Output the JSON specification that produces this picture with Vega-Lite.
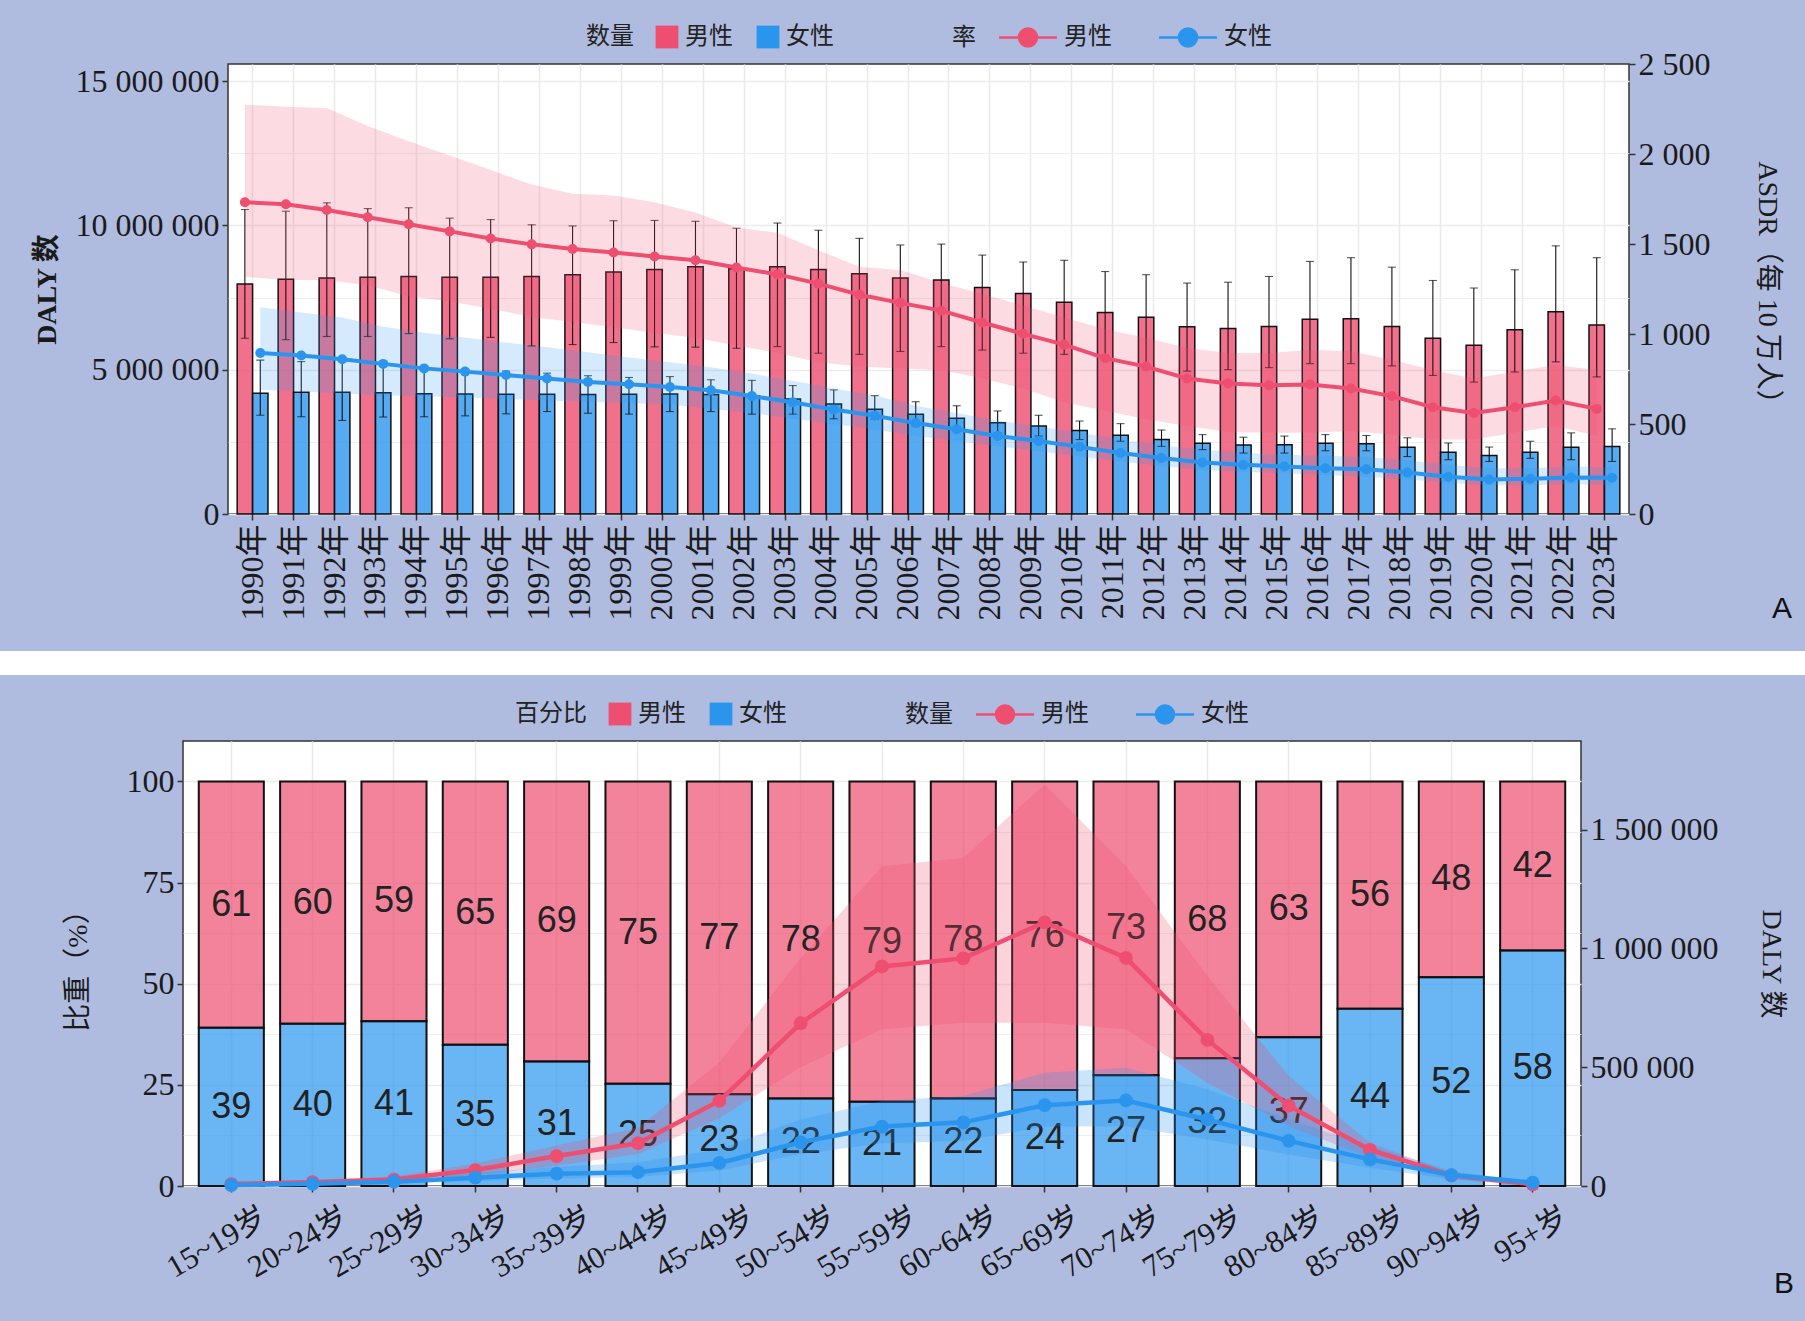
{
  "$schema": "https://vega.github.io/schema/vega-lite/v6.json",
  "background": "#AFBCE0",
  "padding": {"left": 0, "top": 24, "right": 0, "bottom": 22},
  "datasets": {
    "a_count": [
      {"year":1990,"sex":"男性","n":7970000,"lo":6090000,"hi":10550000},
      {"year":1991,"sex":"男性","n":8130000,"lo":6040000,"hi":10490000},
      {"year":1992,"sex":"男性","n":8180000,"lo":6150000,"hi":10780000},
      {"year":1993,"sex":"男性","n":8200000,"lo":6150000,"hi":10580000},
      {"year":1994,"sex":"男性","n":8230000,"lo":6250000,"hi":10610000},
      {"year":1995,"sex":"男性","n":8200000,"lo":6070000,"hi":10250000},
      {"year":1996,"sex":"男性","n":8200000,"lo":6120000,"hi":10200000},
      {"year":1997,"sex":"男性","n":8230000,"lo":5820000,"hi":10020000},
      {"year":1998,"sex":"男性","n":8290000,"lo":5870000,"hi":9980000},
      {"year":1999,"sex":"男性","n":8380000,"lo":5940000,"hi":10160000},
      {"year":2000,"sex":"男性","n":8470000,"lo":5790000,"hi":10170000},
      {"year":2001,"sex":"男性","n":8570000,"lo":5780000,"hi":10140000},
      {"year":2002,"sex":"男性","n":8500000,"lo":5740000,"hi":9900000},
      {"year":2003,"sex":"男性","n":8570000,"lo":5800000,"hi":10080000},
      {"year":2004,"sex":"男性","n":8470000,"lo":5570000,"hi":9830000},
      {"year":2005,"sex":"男性","n":8320000,"lo":5530000,"hi":9550000},
      {"year":2006,"sex":"男性","n":8180000,"lo":5630000,"hi":9320000},
      {"year":2007,"sex":"男性","n":8110000,"lo":5800000,"hi":9350000},
      {"year":2008,"sex":"男性","n":7850000,"lo":5680000,"hi":8970000},
      {"year":2009,"sex":"男性","n":7640000,"lo":5570000,"hi":8730000},
      {"year":2010,"sex":"男性","n":7340000,"lo":5530000,"hi":8790000},
      {"year":2011,"sex":"男性","n":6980000,"lo":5330000,"hi":8400000},
      {"year":2012,"sex":"男性","n":6820000,"lo":5160000,"hi":8290000},
      {"year":2013,"sex":"男性","n":6490000,"lo":4950000,"hi":8000000},
      {"year":2014,"sex":"男性","n":6430000,"lo":5000000,"hi":8030000},
      {"year":2015,"sex":"男性","n":6500000,"lo":5070000,"hi":8230000},
      {"year":2016,"sex":"男性","n":6750000,"lo":5210000,"hi":8750000},
      {"year":2017,"sex":"男性","n":6760000,"lo":5210000,"hi":8880000},
      {"year":2018,"sex":"男性","n":6500000,"lo":5130000,"hi":8550000},
      {"year":2019,"sex":"男性","n":6090000,"lo":4800000,"hi":8090000},
      {"year":2020,"sex":"男性","n":5850000,"lo":4570000,"hi":7830000},
      {"year":2021,"sex":"男性","n":6380000,"lo":4920000,"hi":8460000},
      {"year":2022,"sex":"男性","n":7010000,"lo":5270000,"hi":9290000},
      {"year":2023,"sex":"男性","n":6550000,"lo":4750000,"hi":8880000},
      {"year":1990,"sex":"女性","n":4180000,"lo":3420000,"hi":5330000},
      {"year":1991,"sex":"女性","n":4220000,"lo":3370000,"hi":5280000},
      {"year":1992,"sex":"女性","n":4220000,"lo":3240000,"hi":5340000},
      {"year":1993,"sex":"女性","n":4200000,"lo":3360000,"hi":5280000},
      {"year":1994,"sex":"女性","n":4170000,"lo":3370000,"hi":5100000},
      {"year":1995,"sex":"女性","n":4160000,"lo":3400000,"hi":5020000},
      {"year":1996,"sex":"女性","n":4150000,"lo":3470000,"hi":4950000},
      {"year":1997,"sex":"女性","n":4150000,"lo":3550000,"hi":4880000},
      {"year":1998,"sex":"女性","n":4140000,"lo":3490000,"hi":4790000},
      {"year":1999,"sex":"女性","n":4150000,"lo":3460000,"hi":4730000},
      {"year":2000,"sex":"女性","n":4160000,"lo":3550000,"hi":4760000},
      {"year":2001,"sex":"女性","n":4140000,"lo":3550000,"hi":4650000},
      {"year":2002,"sex":"女性","n":4100000,"lo":3460000,"hi":4630000},
      {"year":2003,"sex":"女性","n":3980000,"lo":3460000,"hi":4450000},
      {"year":2004,"sex":"女性","n":3810000,"lo":3300000,"hi":4300000},
      {"year":2005,"sex":"女性","n":3630000,"lo":3280000,"hi":4100000},
      {"year":2006,"sex":"女性","n":3460000,"lo":3050000,"hi":3890000},
      {"year":2007,"sex":"女性","n":3320000,"lo":2990000,"hi":3750000},
      {"year":2008,"sex":"女性","n":3160000,"lo":2810000,"hi":3570000},
      {"year":2009,"sex":"女性","n":3050000,"lo":2700000,"hi":3420000},
      {"year":2010,"sex":"女性","n":2890000,"lo":2580000,"hi":3220000},
      {"year":2011,"sex":"女性","n":2730000,"lo":2520000,"hi":3130000},
      {"year":2012,"sex":"女性","n":2580000,"lo":2340000,"hi":2910000},
      {"year":2013,"sex":"女性","n":2450000,"lo":2230000,"hi":2750000},
      {"year":2014,"sex":"女性","n":2390000,"lo":2110000,"hi":2660000},
      {"year":2015,"sex":"女性","n":2400000,"lo":2110000,"hi":2700000},
      {"year":2016,"sex":"女性","n":2450000,"lo":2190000,"hi":2750000},
      {"year":2017,"sex":"女性","n":2430000,"lo":2190000,"hi":2720000},
      {"year":2018,"sex":"女性","n":2310000,"lo":1990000,"hi":2640000},
      {"year":2019,"sex":"女性","n":2140000,"lo":1880000,"hi":2460000},
      {"year":2020,"sex":"女性","n":2030000,"lo":1820000,"hi":2320000},
      {"year":2021,"sex":"女性","n":2140000,"lo":1930000,"hi":2520000},
      {"year":2022,"sex":"女性","n":2310000,"lo":1880000,"hi":2810000},
      {"year":2023,"sex":"女性","n":2340000,"lo":1820000,"hi":2950000}
    ],
    "a_rate": [
      {"year":1990,"sex":"男性","r":1732,"rlo":1318,"rhi":2274},
      {"year":1991,"sex":"男性","r":1721,"rlo":1300,"rhi":2263},
      {"year":1992,"sex":"男性","r":1689,"rlo":1300,"rhi":2255},
      {"year":1993,"sex":"男性","r":1649,"rlo":1270,"rhi":2155},
      {"year":1994,"sex":"男性","r":1610,"rlo":1210,"rhi":2071},
      {"year":1995,"sex":"男性","r":1570,"rlo":1180,"rhi":1992},
      {"year":1996,"sex":"男性","r":1531,"rlo":1140,"rhi":1911},
      {"year":1997,"sex":"男性","r":1498,"rlo":1095,"rhi":1830},
      {"year":1998,"sex":"男性","r":1472,"rlo":1066,"rhi":1779},
      {"year":1999,"sex":"男性","r":1453,"rlo":1038,"rhi":1770},
      {"year":2000,"sex":"男性","r":1431,"rlo":1005,"rhi":1732},
      {"year":2001,"sex":"男性","r":1410,"rlo":979,"rhi":1675},
      {"year":2002,"sex":"男性","r":1369,"rlo":936,"rhi":1591},
      {"year":2003,"sex":"男性","r":1331,"rlo":894,"rhi":1562},
      {"year":2004,"sex":"男性","r":1280,"rlo":843,"rhi":1465},
      {"year":2005,"sex":"男性","r":1218,"rlo":819,"rhi":1374},
      {"year":2006,"sex":"男性","r":1173,"rlo":809,"rhi":1355},
      {"year":2007,"sex":"男性","r":1130,"rlo":800,"rhi":1284},
      {"year":2008,"sex":"男性","r":1064,"rlo":753,"rhi":1224},
      {"year":2009,"sex":"男性","r":1001,"rlo":697,"rhi":1158},
      {"year":2010,"sex":"男性","r":941,"rlo":621,"rhi":1092},
      {"year":2011,"sex":"男性","r":866,"rlo":574,"rhi":1026},
      {"year":2012,"sex":"男性","r":819,"rlo":527,"rhi":979},
      {"year":2013,"sex":"男性","r":753,"rlo":489,"rhi":922},
      {"year":2014,"sex":"男性","r":725,"rlo":456,"rhi":894},
      {"year":2015,"sex":"男性","r":715,"rlo":452,"rhi":894},
      {"year":2016,"sex":"男性","r":719,"rlo":452,"rhi":913},
      {"year":2017,"sex":"男性","r":697,"rlo":461,"rhi":904},
      {"year":2018,"sex":"男性","r":655,"rlo":442,"rhi":857},
      {"year":2019,"sex":"男性","r":593,"rlo":414,"rhi":800},
      {"year":2020,"sex":"男性","r":561,"rlo":414,"rhi":753},
      {"year":2021,"sex":"男性","r":593,"rlo":452,"rhi":791},
      {"year":2022,"sex":"男性","r":631,"rlo":489,"rhi":828},
      {"year":2023,"sex":"男性","r":584,"rlo":433,"rhi":800},
      {"year":1990,"sex":"女性","r":894,"rlo":690,"rhi":1148},
      {"year":1991,"sex":"女性","r":881,"rlo":680,"rhi":1120},
      {"year":1992,"sex":"女性","r":860,"rlo":670,"rhi":1092},
      {"year":1993,"sex":"女性","r":834,"rlo":660,"rhi":1040},
      {"year":1994,"sex":"女性","r":809,"rlo":654,"rhi":1007},
      {"year":1995,"sex":"女性","r":791,"rlo":646,"rhi":981},
      {"year":1996,"sex":"女性","r":772,"rlo":639,"rhi":952},
      {"year":1997,"sex":"女性","r":753,"rlo":631,"rhi":926},
      {"year":1998,"sex":"女性","r":734,"rlo":624,"rhi":898},
      {"year":1999,"sex":"女性","r":721,"rlo":617,"rhi":870},
      {"year":2000,"sex":"女性","r":706,"rlo":609,"rhi":843},
      {"year":2001,"sex":"女性","r":687,"rlo":585,"rhi":815},
      {"year":2002,"sex":"女性","r":655,"rlo":560,"rhi":780},
      {"year":2003,"sex":"女性","r":621,"rlo":530,"rhi":740},
      {"year":2004,"sex":"女性","r":580,"rlo":500,"rhi":697},
      {"year":2005,"sex":"女性","r":546,"rlo":470,"rhi":659},
      {"year":2006,"sex":"女性","r":505,"rlo":433,"rhi":602},
      {"year":2007,"sex":"女性","r":471,"rlo":405,"rhi":561},
      {"year":2008,"sex":"女性","r":433,"rlo":376,"rhi":518},
      {"year":2009,"sex":"女性","r":405,"rlo":348,"rhi":486},
      {"year":2010,"sex":"女性","r":373,"rlo":320,"rhi":452},
      {"year":2011,"sex":"女性","r":339,"rlo":292,"rhi":414},
      {"year":2012,"sex":"女性","r":311,"rlo":267,"rhi":380},
      {"year":2013,"sex":"女性","r":286,"rlo":245,"rhi":358},
      {"year":2014,"sex":"女性","r":273,"rlo":235,"rhi":339},
      {"year":2015,"sex":"女性","r":264,"rlo":226,"rhi":329},
      {"year":2016,"sex":"女性","r":254,"rlo":216,"rhi":324},
      {"year":2017,"sex":"女性","r":248,"rlo":207,"rhi":316},
      {"year":2018,"sex":"女性","r":230,"rlo":192,"rhi":297},
      {"year":2019,"sex":"女性","r":207,"rlo":173,"rhi":273},
      {"year":2020,"sex":"女性","r":192,"rlo":160,"rhi":254},
      {"year":2021,"sex":"女性","r":196,"rlo":160,"rhi":254},
      {"year":2022,"sex":"女性","r":203,"rlo":166,"rhi":264},
      {"year":2023,"sex":"女性","r":201,"rlo":160,"rhi":260}
    ],
    "b": [
      {"age":"15~19岁","sex":"男性","pct":60.9,"n":8000,"nlo":3000,"nhi":15000},
      {"age":"20~24岁","sex":"男性","pct":59.9,"n":16000,"nlo":8000,"nhi":25000},
      {"age":"25~29岁","sex":"男性","pct":59.3,"n":27000,"nlo":18000,"nhi":40000},
      {"age":"30~34岁","sex":"男性","pct":65.1,"n":67000,"nlo":45000,"nhi":95000},
      {"age":"35~39岁","sex":"男性","pct":69.2,"n":126000,"nlo":85000,"nhi":170000},
      {"age":"40~44岁","sex":"男性","pct":74.7,"n":180000,"nlo":135000,"nhi":245000},
      {"age":"45~49岁","sex":"男性","pct":77.3,"n":358000,"nlo":285000,"nhi":520000},
      {"age":"50~54岁","sex":"男性","pct":78.4,"n":685000,"nlo":500000,"nhi":960000},
      {"age":"55~59岁","sex":"男性","pct":79.2,"n":924000,"nlo":660000,"nhi":1346000},
      {"age":"60~64岁","sex":"男性","pct":78.4,"n":958000,"nlo":687000,"nhi":1381000},
      {"age":"65~69岁","sex":"男性","pct":76.3,"n":1110000,"nlo":687000,"nhi":1690000},
      {"age":"70~74岁","sex":"男性","pct":72.6,"n":960000,"nlo":660000,"nhi":1346000},
      {"age":"75~79岁","sex":"男性","pct":68.4,"n":615000,"nlo":435000,"nhi":884000},
      {"age":"80~84岁","sex":"男性","pct":63.2,"n":338000,"nlo":252000,"nhi":463000},
      {"age":"85~89岁","sex":"男性","pct":56.2,"n":152000,"nlo":119000,"nhi":182000},
      {"age":"90~94岁","sex":"男性","pct":48.4,"n":45000,"nlo":28000,"nhi":56000},
      {"age":"95+岁","sex":"男性","pct":41.8,"n":7000,"nlo":1000,"nhi":9000},
      {"age":"15~19岁","sex":"女性","pct":39.1,"n":4000,"nlo":1000,"nhi":9000},
      {"age":"20~24岁","sex":"女性","pct":40.1,"n":9000,"nlo":4000,"nhi":17000},
      {"age":"25~29岁","sex":"女性","pct":40.7,"n":18000,"nlo":10000,"nhi":30000},
      {"age":"30~34岁","sex":"女性","pct":34.9,"n":35000,"nlo":20000,"nhi":55000},
      {"age":"35~39岁","sex":"女性","pct":30.8,"n":52000,"nlo":32000,"nhi":80000},
      {"age":"40~44岁","sex":"女性","pct":25.3,"n":58000,"nlo":38000,"nhi":100000},
      {"age":"45~49岁","sex":"女性","pct":22.7,"n":97000,"nlo":65000,"nhi":155000},
      {"age":"50~54岁","sex":"女性","pct":21.6,"n":184000,"nlo":135000,"nhi":280000},
      {"age":"55~59岁","sex":"女性","pct":20.8,"n":250000,"nlo":180000,"nhi":358000},
      {"age":"60~64岁","sex":"女性","pct":21.6,"n":268000,"nlo":189000,"nhi":379000},
      {"age":"65~69岁","sex":"女性","pct":23.7,"n":340000,"nlo":250000,"nhi":477000},
      {"age":"70~74岁","sex":"女性","pct":27.4,"n":360000,"nlo":252000,"nhi":498000},
      {"age":"75~79岁","sex":"女性","pct":31.6,"n":280000,"nlo":196000,"nhi":407000},
      {"age":"80~84岁","sex":"女性","pct":36.8,"n":190000,"nlo":133000,"nhi":281000},
      {"age":"85~89岁","sex":"女性","pct":43.8,"n":112000,"nlo":77000,"nhi":168000},
      {"age":"90~94岁","sex":"女性","pct":51.6,"n":46000,"nlo":28000,"nhi":63000},
      {"age":"95+岁","sex":"女性","pct":58.2,"n":14000,"nlo":3000,"nhi":17000}
    ]
  },
  "concat": [
    {
      "hconcat": [
        {
          "width": 32,
          "height": 10,
          "data": {"values": [{"k": 1}]},
          "mark": {"type": "point", "opacity": 0},
          "view": {"stroke": null, "fill": null}
        },
        {
          "width": 1401,
          "height": 450,
          "title": {"text": "A", "orient": "bottom", "anchor": "end", "frame": "bounds", "offset": -26, "dx": 12, "font": "Liberation Sans", "fontSize": 30, "fontWeight": "normal", "color": "#111111"},
          "encoding": {
            "x": {"field": "year", "type": "ordinal", "title": null,
              "scale": {"paddingInner": 0, "paddingOuter": 0.1},
              "axis": {"labelExpr": "datum.label + '年'", "labelAngle": -90, "grid": true, "tickBand": "center", "gridWidth": 1.6, "labelPadding": 4}},
            "xOffset": {"field": "sex", "type": "nominal", "scale": {"domain": ["男性", "女性"], "paddingInner": 0, "paddingOuter": 0.33}}
          },
          "layer": [
            {
              "data": {"name": "a_count"},
              "layer": [
                {
                  "mark": {"type": "bar", "stroke": "#111111", "strokeWidth": 1.5, "fillOpacity": 0.8},
                  "encoding": {
                    "y": {"field": "n", "type": "quantitative", "scale": {"domain": [0, 15590000], "nice": false},
                      "axis": {"orient": "left", "title": "DALY 数", "titleFontWeight": "bold", "titlePadding": 14,
                        "values": [0, 2500000, 5000000, 7500000, 10000000, 12500000, 15000000],
                        "format": ",d",
                        "labelExpr": "datum.value % 5000000 === 0 ? datum.label : ''",
                        "tickOpacity": {"condition": {"test": "datum.value % 5000000 !== 0", "value": 0}, "value": 1},
                        "grid": true,
                        "gridWidth": {"condition": {"test": "datum.value % 5000000 !== 0", "value": 0.8}, "value": 1.6}}},
                    "fill": {"field": "sex", "type": "nominal",
                      "scale": {"domain": ["男性", "女性"], "range": ["#EE4E70", "#2B95EE"]},
                      "legend": {"title": "数量", "symbolType": "square", "symbolSize": 520, "symbolStrokeWidth": 0, "symbolOpacity": 1,
                        "titlePadding": 21, "labelOffset": 6, "columnPadding": 23,
                        "encode": {"symbols": {"update": {"fillOpacity": {"value": 1}, "strokeWidth": {"value": 0}}}}}}
                  }
                },
                {
                  "mark": {"type": "rule", "color": "#111111", "strokeWidth": 1.1},
                  "encoding": {
                    "y": {"field": "lo", "type": "quantitative", "scale": {"domain": [0, 15590000], "nice": false},
                      "axis": {"orient": "left", "title": "DALY 数", "titleFontWeight": "bold", "titlePadding": 14,
                        "values": [0, 2500000, 5000000, 7500000, 10000000, 12500000, 15000000],
                        "format": ",d",
                        "labelExpr": "datum.value % 5000000 === 0 ? datum.label : ''",
                        "tickOpacity": {"condition": {"test": "datum.value % 5000000 !== 0", "value": 0}, "value": 1},
                        "grid": true,
                        "gridWidth": {"condition": {"test": "datum.value % 5000000 !== 0", "value": 0.8}, "value": 1.6}}},
                    "y2": {"field": "hi"}
                  }
                },
                {
                  "mark": {"type": "tick", "color": "#111111", "thickness": 1.1, "size": 8},
                  "encoding": {"y": {"field": "lo", "type": "quantitative", "scale": {"domain": [0, 15590000], "nice": false},
                      "axis": {"orient": "left", "title": "DALY 数", "titleFontWeight": "bold", "titlePadding": 14,
                        "values": [0, 2500000, 5000000, 7500000, 10000000, 12500000, 15000000],
                        "format": ",d",
                        "labelExpr": "datum.value % 5000000 === 0 ? datum.label : ''",
                        "tickOpacity": {"condition": {"test": "datum.value % 5000000 !== 0", "value": 0}, "value": 1},
                        "grid": true,
                        "gridWidth": {"condition": {"test": "datum.value % 5000000 !== 0", "value": 0.8}, "value": 1.6}}}}
                },
                {
                  "mark": {"type": "tick", "color": "#111111", "thickness": 1.1, "size": 8},
                  "encoding": {"y": {"field": "hi", "type": "quantitative", "scale": {"domain": [0, 15590000], "nice": false},
                      "axis": {"orient": "left", "title": "DALY 数", "titleFontWeight": "bold", "titlePadding": 14,
                        "values": [0, 2500000, 5000000, 7500000, 10000000, 12500000, 15000000],
                        "format": ",d",
                        "labelExpr": "datum.value % 5000000 === 0 ? datum.label : ''",
                        "tickOpacity": {"condition": {"test": "datum.value % 5000000 !== 0", "value": 0}, "value": 1},
                        "grid": true,
                        "gridWidth": {"condition": {"test": "datum.value % 5000000 !== 0", "value": 0.8}, "value": 1.6}}}}
                }
              ]
            },
            {
              "data": {"name": "a_rate"},
              "layer": [
                {
                  "mark": {"type": "area", "opacity": 0.2},
                  "encoding": {
                    "y": {"field": "rlo", "type": "quantitative", "scale": {"domain": [0, 2500], "nice": false},
                      "axis": {"orient": "right", "title": "ASDR（每 10 万人）", "titlePadding": 42, "values": [0, 500, 1000, 1500, 2000, 2500], "format": ",d", "grid": false}},
                    "y2": {"field": "rhi"},
                    "detail": {"field": "sex"},
                    "fill": {"condition": {"test": "datum.sex === '男性'", "value": "#EE4E70"}, "value": "#2B95EE"}
                  }
                },
                {
                  "mark": {"type": "line", "strokeWidth": 4},
                  "encoding": {
                    "y": {"field": "r", "type": "quantitative", "scale": {"domain": [0, 2500], "nice": false},
                      "axis": {"orient": "right", "title": "ASDR（每 10 万人）", "titlePadding": 42, "values": [0, 500, 1000, 1500, 2000, 2500], "format": ",d", "grid": false}},
                    "stroke": {"field": "sex", "type": "nominal", "sort": "descending",
                      "scale": {"range": ["#EE4E70", "#2B95EE"]},
                      "legend": {"title": "率", "symbolType": "M-2.76,0L2.76,0M0.86,0A0.86,0.86,0,1,1,-0.86,0A0.86,0.86,0,1,1,0.86,0Z", "symbolSize": 441, "symbolStrokeWidth": 2.5,
                        "titlePadding": 40, "labelOffset": 24, "columnPadding": 42,
                        "encode": {"symbols": {"update": {
                          "fill": [{"test": "datum.value === '男性'", "value": "#EE4E70"}, {"value": "#2B95EE"}],
                          "stroke": [{"test": "datum.value === '男性'", "value": "#EE4E70"}, {"value": "#2B95EE"}],
                          "fillOpacity": {"value": 1}, "opacity": {"value": 1}}}}}}
                  }
                },
                {
                  "mark": {"type": "point", "filled": true, "size": 100, "opacity": 1},
                  "encoding": {
                    "y": {"field": "r", "type": "quantitative", "scale": {"domain": [0, 2500], "nice": false},
                      "axis": {"orient": "right", "title": "ASDR（每 10 万人）", "titlePadding": 42, "values": [0, 500, 1000, 1500, 2000, 2500], "format": ",d", "grid": false}},
                    "fill": {"condition": {"test": "datum.sex === '男性'", "value": "#EE4E70"}, "value": "#2B95EE"}
                  }
                }
              ]
            }
          ],
          "resolve": {"scale": {"y": "independent"}}
        }
      ],
      "spacing": 0,
      "resolve": {
        "scale": {"fill": "independent", "stroke": "independent"},
        "legend": {"fill": "independent", "stroke": "independent"}
      }
    },
    {
      "width": 1805,
      "height": 24,
      "data": {"values": [{"k": 1}]},
      "mark": {"type": "point", "opacity": 0},
      "view": {"stroke": null, "fill": "white"}
    },
    {
      "hconcat": [
        {
          "width": 63,
          "height": 10,
          "data": {"values": [{"k": 1}]},
          "mark": {"type": "point", "opacity": 0},
          "view": {"stroke": null, "fill": null}
        },
        {
          "width": 1398,
          "height": 445,
          "data": {"name": "b"},
          "title": {"text": "B", "orient": "bottom", "anchor": "end", "frame": "bounds", "offset": -14, "dx": 10, "font": "Liberation Sans", "fontSize": 30, "fontWeight": "normal", "color": "#111111"},
          "encoding": {
            "x": {"field": "age", "type": "ordinal", "title": null,
              "sort": ["15~19岁","20~24岁","25~29岁","30~34岁","35~39岁","40~44岁","45~49岁","50~54岁","55~59岁","60~64岁","65~69岁","70~74岁","75~79岁","80~84岁","85~89岁","90~94岁","95+岁"],
              "scale": {"paddingInner": 0, "paddingOuter": 0.094},
              "axis": {"labelAngle": -30, "labelAlign": "right", "labelBaseline": "top", "labelFontSize": 31, "labelOffset": 26, "labelPadding": 10, "grid": true, "tickBand": "center", "gridWidth": 1.6}}
          },
          "layer": [
            {
              "layer": [
                {
                  "transform": [{"stack": "pct", "groupby": ["age"], "sort": [{"field": "sex", "order": "ascending"}], "as": ["p0", "p1"]}],
                  "mark": {"type": "bar", "width": {"band": 0.8}, "stroke": "#111111", "strokeWidth": 2, "fillOpacity": 0.7},
                  "encoding": {
                    "y": {"field": "p0", "type": "quantitative", "scale": {"domain": [0, 110], "nice": false},
                      "axis": {"orient": "left", "title": "比重（%）", "titlePadding": 34,
                        "values": [0, 12.5, 25, 37.5, 50, 62.5, 75, 87.5, 100],
                        "labelExpr": "datum.value % 25 === 0 ? datum.label : ''",
                        "tickOpacity": {"condition": {"test": "datum.value % 25 !== 0", "value": 0}, "value": 1},
                        "grid": true,
                        "gridWidth": {"condition": {"test": "datum.value % 25 !== 0", "value": 0.8}, "value": 1.6}}},
                    "y2": {"field": "p1"},
                    "fill": {"field": "sex", "type": "nominal",
                      "scale": {"domain": ["男性", "女性"], "range": ["#EE4E70", "#2B95EE"]},
                      "legend": {"title": "百分比", "symbolType": "square", "symbolSize": 520, "symbolStrokeWidth": 0, "symbolOpacity": 1,
                        "titlePadding": 21, "labelOffset": 6, "columnPadding": 23,
                        "encode": {"symbols": {"update": {"fillOpacity": {"value": 1}, "strokeWidth": {"value": 0}}}}}}
                  }
                },
                {
                  "transform": [
                    {"stack": "pct", "groupby": ["age"], "sort": [{"field": "sex", "order": "ascending"}], "as": ["p0", "p1"]},
                    {"fold": ["p0", "p1"], "as": ["k", "v"]},
                    {"aggregate": [{"op": "mean", "field": "v", "as": "mid"}, {"op": "max", "field": "pct", "as": "pct"}], "groupby": ["age", "sex"]}
                  ],
                  "mark": {"type": "text", "font": "Liberation Sans", "fontSize": 36, "color": "#222222"},
                  "encoding": {
                    "y": {"field": "mid", "type": "quantitative", "scale": {"domain": [0, 110], "nice": false},
                      "axis": {"orient": "left", "title": "比重（%）", "titlePadding": 34,
                        "values": [0, 12.5, 25, 37.5, 50, 62.5, 75, 87.5, 100],
                        "labelExpr": "datum.value % 25 === 0 ? datum.label : ''",
                        "tickOpacity": {"condition": {"test": "datum.value % 25 !== 0", "value": 0}, "value": 1},
                        "grid": true,
                        "gridWidth": {"condition": {"test": "datum.value % 25 !== 0", "value": 0.8}, "value": 1.6}}},
                    "text": {"field": "pct", "type": "quantitative", "format": ".0f"}
                  }
                }
              ]
            },
            {
              "layer": [
                {
                  "mark": {"type": "area", "opacity": 0.25},
                  "encoding": {
                    "y": {"field": "nlo", "type": "quantitative", "scale": {"domain": [0, 1873000], "nice": false},
                      "axis": {"orient": "right", "title": "DALY 数", "titlePadding": 38, "values": [0, 500000, 1000000, 1500000], "format": ",d", "grid": false}},
                    "y2": {"field": "nhi"},
                    "detail": {"field": "sex"},
                    "fill": {"condition": {"test": "datum.sex === '男性'", "value": "#EE4E70"}, "value": "#2B95EE"}
                  }
                },
                {
                  "mark": {"type": "line", "strokeWidth": 4.5},
                  "encoding": {
                    "y": {"field": "n", "type": "quantitative", "scale": {"domain": [0, 1873000], "nice": false},
                      "axis": {"orient": "right", "title": "DALY 数", "titlePadding": 38, "values": [0, 500000, 1000000, 1500000], "format": ",d", "grid": false}},
                    "stroke": {"field": "sex", "type": "nominal", "sort": "descending",
                      "scale": {"range": ["#EE4E70", "#2B95EE"]},
                      "legend": {"title": "数量", "symbolType": "M-2.76,0L2.76,0M0.86,0A0.86,0.86,0,1,1,-0.86,0A0.86,0.86,0,1,1,0.86,0Z", "symbolSize": 441, "symbolStrokeWidth": 2.5,
                        "titlePadding": 40, "labelOffset": 24, "columnPadding": 42,
                        "encode": {"symbols": {"update": {
                          "fill": [{"test": "datum.value === '男性'", "value": "#EE4E70"}, {"value": "#2B95EE"}],
                          "stroke": [{"test": "datum.value === '男性'", "value": "#EE4E70"}, {"value": "#2B95EE"}],
                          "fillOpacity": {"value": 1}, "opacity": {"value": 1}}}}}}
                  }
                },
                {
                  "mark": {"type": "point", "filled": true, "size": 190, "opacity": 1},
                  "encoding": {
                    "y": {"field": "n", "type": "quantitative", "scale": {"domain": [0, 1873000], "nice": false},
                      "axis": {"orient": "right", "title": "DALY 数", "titlePadding": 38, "values": [0, 500000, 1000000, 1500000], "format": ",d", "grid": false}},
                    "fill": {"condition": {"test": "datum.sex === '男性'", "value": "#EE4E70"}, "value": "#2B95EE"}
                  }
                }
              ]
            }
          ],
          "resolve": {"scale": {"y": "independent"}}
        }
      ],
      "spacing": 0,
      "resolve": {
        "scale": {"fill": "independent", "stroke": "independent"},
        "legend": {"fill": "independent", "stroke": "independent"}
      }
    }
  ],
  "columns": 1,
  "spacing": 26,
  "resolve": {
    "scale": {"fill": "independent", "stroke": "independent"},
    "legend": {"fill": "independent", "stroke": "independent"}
  },
  "config": {
    "font": "Liberation Serif, Noto Sans CJK SC, serif",
    "view": {"stroke": "#333333", "strokeWidth": 1.5, "fill": "white"},
    "axis": {
      "labelFont": "Liberation Serif, Noto Sans CJK SC, serif",
      "labelFontSize": 32,
      "labelColor": "#1a1a1a",
      "titleFont": "Liberation Serif, Noto Sans CJK SC, serif",
      "titleFontSize": 28,
      "titleFontWeight": "normal",
      "titleColor": "#1a1a1a",
      "domain": false,
      "tickColor": "#333333",
      "tickSize": 6,
      "tickWidth": 1.5,
      "gridColor": "#EBEBEB",
      "labelPadding": 3,
      "labelOverlap": false
    },
    "legend": {
      "orient": "top",
      "direction": "horizontal",
      "titleOrient": "left",
      "titleFont": "Liberation Serif, Noto Sans CJK SC, serif",
      "titleFontSize": 24,
      "titleFontWeight": "normal",
      "titleColor": "#222222",
      "labelFont": "Liberation Serif, Noto Sans CJK SC, serif",
      "labelFontSize": 24,
      "labelColor": "#222222",
      "offset": 12,
      "padding": 0,
      "layout": {"top": {"anchor": "middle", "direction": "horizontal", "margin": 118}}
    },
    "locale": {"number": {"decimal": ".", "thousands": " ", "grouping": [3], "currency": ["", ""]}}
  }
}
